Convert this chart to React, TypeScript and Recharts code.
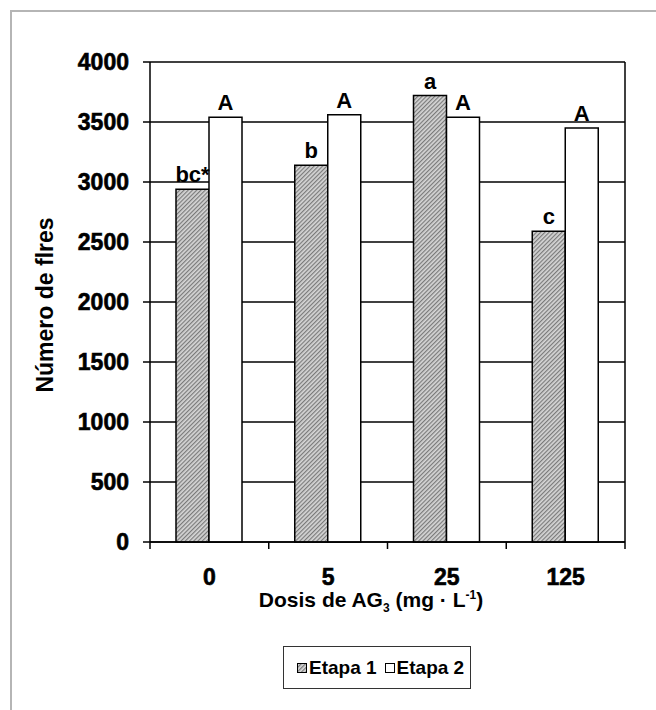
import React from 'react'
import { BarChart, Bar, XAxis, YAxis, CartesianGrid, LabelList } from 'recharts'

// Número de flores por dosis de AG3, dos etapas.
const doses = ['0', '5', '25', '125']
const etapa1 = [2940, 3140, 3720, 2590]
const etapa2 = [3540, 3560, 3540, 3450]
const letras1 = ['bc*', 'b', 'a', 'c']
const letras2 = ['A', 'A', 'A', 'A']
const yTicks = [0, 500, 1000, 1500, 2000, 2500, 3000, 3500, 4000]

const data = doses.map((d, i) => ({
  dosis: d,
  etapa1: etapa1[i],
  etapa2: etapa2[i],
  l1: letras1[i],
  l2: letras2[i],
}))

const font = '"Liberation Sans", Arial, sans-serif'
const W = 656
const H = 710
const plotLeft = 150
const plotRight = 625
const halfBand = (plotRight - plotLeft) / doses.length / 2

function XTick(props: any) {
  const { x, y, payload, index } = props
  return (
    <g>
      <text x={x} y={y + 43} textAnchor="middle" fontFamily={font} fontWeight="bold" fontSize={23} fill="#000" stroke="#000" strokeWidth={0.6}>
        {payload.value}
      </text>
      <line x1={x + halfBand} x2={x + halfBand} y1={y} y2={y + 7} stroke="#000" strokeWidth={1.5} />
      {index === 0 && <line x1={x - halfBand} x2={x - halfBand} y1={y} y2={y + 7} stroke="#000" strokeWidth={1.5} />}
    </g>
  )
}

function XTitle() {
  return (
    <text x={371} y={607} textAnchor="middle" fontFamily={font} fontWeight="bold" fontSize={21} fill="#000">
      Dosis de AG<tspan fontSize={12} dy={5}>3</tspan>
      <tspan dy={-5}> (mg · L</tspan>
      <tspan fontSize={12} dy={-8}>-1</tspan>
      <tspan dy={8}>)</tspan>
    </text>
  )
}

function YTitle() {
  return (
    <text
      x={53}
      y={305}
      transform="rotate(-90 53 305)"
      textAnchor="middle"
      fontFamily={font}
      fontWeight="bold"
      fontSize={23}
      fill="#000"
    >
      Número de flres
    </text>
  )
}

export default function App() {
  return (
    <div style={{ position: 'fixed', left: 0, top: 0, width: W, height: H, background: '#fff', overflow: 'hidden' }}>
      {/* marco gris exterior */}
      <div
        style={{
          position: 'absolute',
          left: 10,
          top: 10,
          width: W,
          height: H,
          borderLeft: '2px solid #b5b5b5',
          borderTop: '2px solid #b5b5b5',
        }}
      />
      <svg width={0} height={0} style={{ position: 'absolute' }}>
        <defs>
          <pattern id="rayado" width={3} height={3} patternUnits="userSpaceOnUse" patternTransform="rotate(45)">
            <rect width={3} height={3} fill="#d6d6d6" />
            <rect width={1.2} height={3} fill="#7a7a7a" />
          </pattern>
        </defs>
      </svg>
      <div style={{ position: 'absolute', left: 0, top: 0 }}>
        <BarChart
          width={W}
          height={H}
          data={data}
          margin={{ top: 62, right: W - plotRight, bottom: 138, left: 0 }}
          barGap={0}
          barSize={33}
        >
          <CartesianGrid stroke="#000" strokeWidth={1.5} vertical={true} verticalPoints={[plotRight]} />
          <XAxis
            dataKey="dosis"
            height={30}
            tickLine={false}
            tickSize={0}
            tickMargin={0}
            axisLine={{ stroke: '#000', strokeWidth: 1.5 }}
            tick={<XTick />}
            label={<XTitle />}
          />
          <YAxis
            width={plotLeft}
            domain={[0, 4000]}
            ticks={yTicks}
            interval={0}
            tickSize={7}
            tickMargin={14}
            axisLine={{ stroke: '#000', strokeWidth: 1.5 }}
            tickLine={{ stroke: '#000', strokeWidth: 1.5 }}
            tick={{ fill: '#000', stroke: '#000', strokeWidth: 0.6, fontFamily: font, fontWeight: 'bold', fontSize: 23 }}
            label={<YTitle />}
          />
          <Bar dataKey="etapa1" fill="url(#rayado)" stroke="#000" strokeWidth={1.5} isAnimationActive={false}>
            <LabelList dataKey="l1" position="top" offset={7} fill="#000" fontFamily={font} fontWeight="bold" fontSize={22} />
          </Bar>
          <Bar dataKey="etapa2" fill="#fff" stroke="#000" strokeWidth={1.5} isAnimationActive={false}>
            <LabelList dataKey="l2" position="top" offset={7} fill="#000" fontFamily={font} fontWeight="bold" fontSize={22} />
          </Bar>
        </BarChart>
      </div>
      {/* leyenda */}
      <div
        style={{
          position: 'absolute',
          left: 283,
          top: 646,
          height: 43,
          padding: '0 6px 0 13px',
          boxSizing: 'border-box',
          border: '1.5px solid #333',
          display: 'flex',
          alignItems: 'center',
          gap: 8,
          whiteSpace: 'nowrap',
          fontFamily: font,
          fontWeight: 'bold',
          fontSize: 19,
          color: '#000',
        }}
      >
        <span style={{ display: 'flex', alignItems: 'center', gap: 2 }}>
          <svg width={10} height={10}>
            <rect x={0.5} y={0.5} width={9} height={9} fill="url(#rayado)" stroke="#000" strokeWidth={1} />
          </svg>
          Etapa 1
        </span>
        <span style={{ display: 'flex', alignItems: 'center', gap: 2 }}>
          <svg width={10} height={10}>
            <rect x={0.5} y={0.5} width={9} height={9} fill="#fff" stroke="#000" strokeWidth={1} />
          </svg>
          Etapa 2
        </span>
      </div>
    </div>
  )
}
